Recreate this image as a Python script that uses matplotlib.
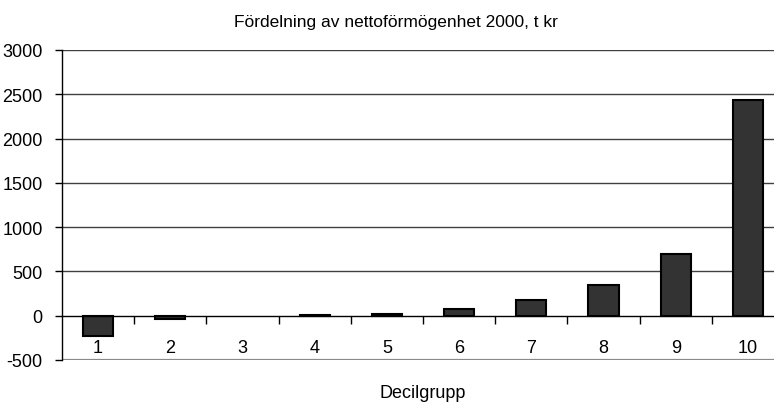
import matplotlib
matplotlib.use("Agg")
import matplotlib.pyplot as plt
from matplotlib.ticker import FixedLocator

plt.rcParams['font.family'] = ['Liberation Sans', 'DejaVu Sans']

categories = ["1", "2", "3", "4", "5", "6", "7", "8", "9", "10"]
values = [-230, -35, 0, 10, 22, 72, 174, 352, 700, 2435]
yticks = [-500, 0, 500, 1000, 1500, 2000, 2500, 3000]
title = "Fördelning av nettoförmögenhet 2000, t kr"
xlabel = "Decilgrupp"

W, H = 774, 406
fig = plt.figure(figsize=(W / 100, H / 100), dpi=100)
left, right, top, bottom = 62, 784, 51, 361
ax = fig.add_axes([left / W, 1 - bottom / H, (right - left) / W, (bottom - top) / H])

x = list(range(1, len(categories) + 1))
ax.set_xlim(0.5, len(categories) + 0.5)
ax.set_ylim(-500, 3000)

for yv in yticks:
    if yv == -500:
        ax.axhline(yv, color='#8a8a8a', lw=1.6, zorder=1)
    elif yv == 0:
        continue
    else:
        ax.axhline(yv, color='#404040', lw=1.0, zorder=1)

ax.bar(x, values, width=0.42, color='#333333', edgecolor='black',
       linewidth=[0 if v == 0 else 1.5 for v in values], zorder=3)

for s in ['top', 'right']:
    ax.spines[s].set_visible(False)
ax.spines['bottom'].set_position(('data', 0))
ax.spines['bottom'].set_color('black')
ax.spines['bottom'].set_linewidth(1.0)
ax.spines['bottom'].set_zorder(4)
ax.spines['left'].set_color('black')
ax.spines['left'].set_linewidth(1.0)

ax.set_yticks(yticks)
ax.set_yticklabels([str(v) for v in yticks])
ax.tick_params(axis='y', direction='out', length=5, width=1, pad=9, labelsize=13, colors='black')

ax.set_xticks(x)
ax.set_xticklabels(categories)
ax.xaxis.set_minor_locator(FixedLocator([i + 0.5 for i in x[:-1]]))
ax.tick_params(axis='x', which='major', length=0, pad=17, labelsize=13)
ax.tick_params(axis='x', which='minor', direction='out', length=6, width=1)

fig.text(396 / W, 1 - 22 / H, title, ha='center', va='center', fontsize=12.5)
fig.text(423 / W, 1 - 394 / H, xlabel, ha='center', va='center', fontsize=13)

fig.savefig("out.png", dpi=100)
